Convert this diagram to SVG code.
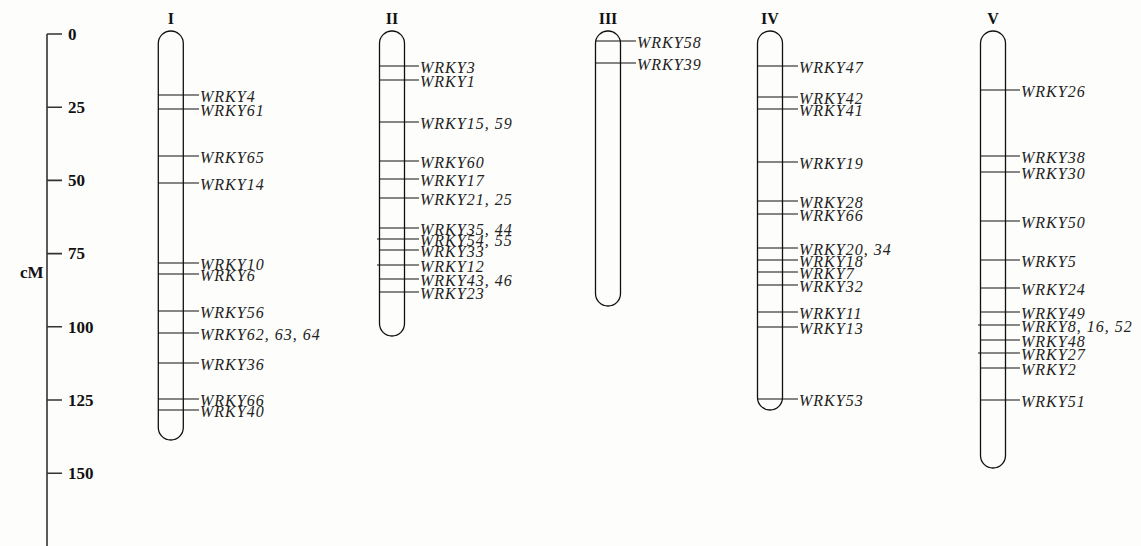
<svg xmlns="http://www.w3.org/2000/svg" width="1141" height="546" viewBox="0 0 1141 546">
<style>
.bg{fill:#fdfdfb}
.pill{fill:none;stroke:#111;stroke-width:1.3}
.mk{stroke:#111;stroke-width:1.2}
.axis{stroke:#333;stroke-width:1.6;fill:none}
.lbl{font-family:"Liberation Serif","Times New Roman",serif;font-style:italic;font-size:16px;letter-spacing:1px;fill:#222}
.chr{font-family:"Liberation Serif","Times New Roman",serif;font-weight:bold;font-size:16px;fill:#111;text-anchor:middle}
.tick{font-family:"Liberation Serif","Times New Roman",serif;font-weight:bold;font-size:17px;fill:#111}
</style>
<rect class="bg" x="0" y="0" width="1141" height="546"/>
<g id="scale">
<path class="axis" d="M47,546 V34 M47,34 H62 M47,107.2 H62 M47,180.4 H62 M47,253.6 H62 M47,326.8 H62 M47,400 H62 M47,473.2 H62"/>
<text class="tick" x="68" y="40">0</text>
<text class="tick" x="68" y="113">25</text>
<text class="tick" x="68" y="186">50</text>
<text class="tick" x="68" y="259">75</text>
<text class="tick" x="68" y="333">100</text>
<text class="tick" x="68" y="406">125</text>
<text class="tick" x="68" y="479">150</text>
<text class="tick" x="20" y="278">cM</text>
</g>
<g id="connectors">
<path class="mk" d="M158.3,95H199 M158.3,109H199 M158.3,156H199 M158.3,183H199 M158.3,263H199 M158.3,274H199 M158.3,311H199 M158.3,333H199 M158.3,363H199 M158.3,399H199 M158.3,410H199"/>
<path class="mk" d="M379.5,66H419 M379.5,80H419 M379.5,122H419 M379.5,161H419 M379.5,179H419 M379.5,198H419 M379.5,228H419 M377,239H419 M379.5,250H419 M377,265H419 M379.5,279H419 M379.5,292H419"/>
<path class="mk" d="M595.5,41H636 M595.5,63H636"/>
<path class="mk" d="M757.5,66H798 M757.5,97H798 M757.5,109H798 M757.5,162H798 M757.5,201H798 M757.5,214H798 M757.5,248H798 M757.5,260H798 M757.5,272H798 M757.5,285H798 M757.5,312H798 M757.5,327H798 M757.5,399H798"/>
<path class="mk" d="M980.5,90H1020 M980.5,156H1020 M980.5,172H1020 M980.5,221H1020 M980.5,260H1020 M980.5,288H1020 M980.5,312H1020 M978,325H1020 M980.5,340H1020 M978,353H1020 M980.5,368H1020 M980.5,400H1020"/>
</g>
<g id="chrI">
<rect class="pill" x="158.3" y="31" width="25" height="409" rx="12.5" ry="12.5"/>
<text class="chr" x="170.8" y="24">I</text>
<text class="lbl" x="200" y="101.5">WRKY4</text>
<text class="lbl" x="200" y="115.5">WRKY61</text>
<text class="lbl" x="200" y="162.5">WRKY65</text>
<text class="lbl" x="200" y="189.5">WRKY14</text>
<text class="lbl" x="200" y="269.5">WRKY10</text>
<text class="lbl" x="200" y="280.5">WRKY6</text>
<text class="lbl" x="200" y="317.5">WRKY56</text>
<text class="lbl" x="200" y="339.5">WRKY62, 63, 64</text>
<text class="lbl" x="200" y="369.5">WRKY36</text>
<text class="lbl" x="200" y="405.5">WRKY66</text>
<text class="lbl" x="200" y="416.5">WRKY40</text>
</g>
<g id="chrII">
<rect class="pill" x="379.5" y="31" width="25" height="305" rx="12.5" ry="12.5"/>
<text class="chr" x="392" y="24">II</text>
<text class="lbl" x="420" y="72.5">WRKY3</text>
<text class="lbl" x="420" y="86.5">WRKY1</text>
<text class="lbl" x="420" y="128.5">WRKY15, 59</text>
<text class="lbl" x="420" y="167.5">WRKY60</text>
<text class="lbl" x="420" y="185.5">WRKY17</text>
<text class="lbl" x="420" y="204.5">WRKY21, 25</text>
<text class="lbl" x="420" y="234.5">WRKY35, 44</text>
<text class="lbl" x="420" y="245.5">WRKY54, 55</text>
<text class="lbl" x="420" y="256.5">WRKY33</text>
<text class="lbl" x="420" y="271.5">WRKY12</text>
<text class="lbl" x="420" y="285.5">WRKY43, 46</text>
<text class="lbl" x="420" y="298.5">WRKY23</text>
</g>
<g id="chrIII">
<rect class="pill" x="595.5" y="31" width="25" height="275" rx="12.5" ry="12.5"/>
<text class="chr" x="608" y="24">III</text>
<text class="lbl" x="637" y="47.5">WRKY58</text>
<text class="lbl" x="637" y="69.5">WRKY39</text>
</g>
<g id="chrIV">
<rect class="pill" x="757.5" y="31" width="25" height="379" rx="12.5" ry="12.5"/>
<text class="chr" x="770" y="24">IV</text>
<text class="lbl" x="799" y="72.5">WRKY47</text>
<text class="lbl" x="799" y="103.5">WRKY42</text>
<text class="lbl" x="799" y="115.5">WRKY41</text>
<text class="lbl" x="799" y="168.5">WRKY19</text>
<text class="lbl" x="799" y="207.5">WRKY28</text>
<text class="lbl" x="799" y="220.5">WRKY66</text>
<text class="lbl" x="799" y="254.5">WRKY20, 34</text>
<text class="lbl" x="799" y="266.5">WRKY18</text>
<text class="lbl" x="799" y="278.5">WRKY7</text>
<text class="lbl" x="799" y="291.5">WRKY32</text>
<text class="lbl" x="799" y="318.5">WRKY11</text>
<text class="lbl" x="799" y="333.5">WRKY13</text>
<text class="lbl" x="799" y="405.5">WRKY53</text>
</g>
<g id="chrV">
<rect class="pill" x="980.5" y="31" width="25" height="437" rx="12.5" ry="12.5"/>
<text class="chr" x="993" y="24">V</text>
<text class="lbl" x="1021" y="96.5">WRKY26</text>
<text class="lbl" x="1021" y="162.5">WRKY38</text>
<text class="lbl" x="1021" y="178.5">WRKY30</text>
<text class="lbl" x="1021" y="227.5">WRKY50</text>
<text class="lbl" x="1021" y="266.5">WRKY5</text>
<text class="lbl" x="1021" y="294.5">WRKY24</text>
<text class="lbl" x="1021" y="318.5">WRKY49</text>
<text class="lbl" x="1021" y="331.5">WRKY8, 16, 52</text>
<text class="lbl" x="1021" y="346.5">WRKY48</text>
<text class="lbl" x="1021" y="359.5">WRKY27</text>
<text class="lbl" x="1021" y="374.5">WRKY2</text>
<text class="lbl" x="1021" y="406.5">WRKY51</text>
</g>
</svg>
